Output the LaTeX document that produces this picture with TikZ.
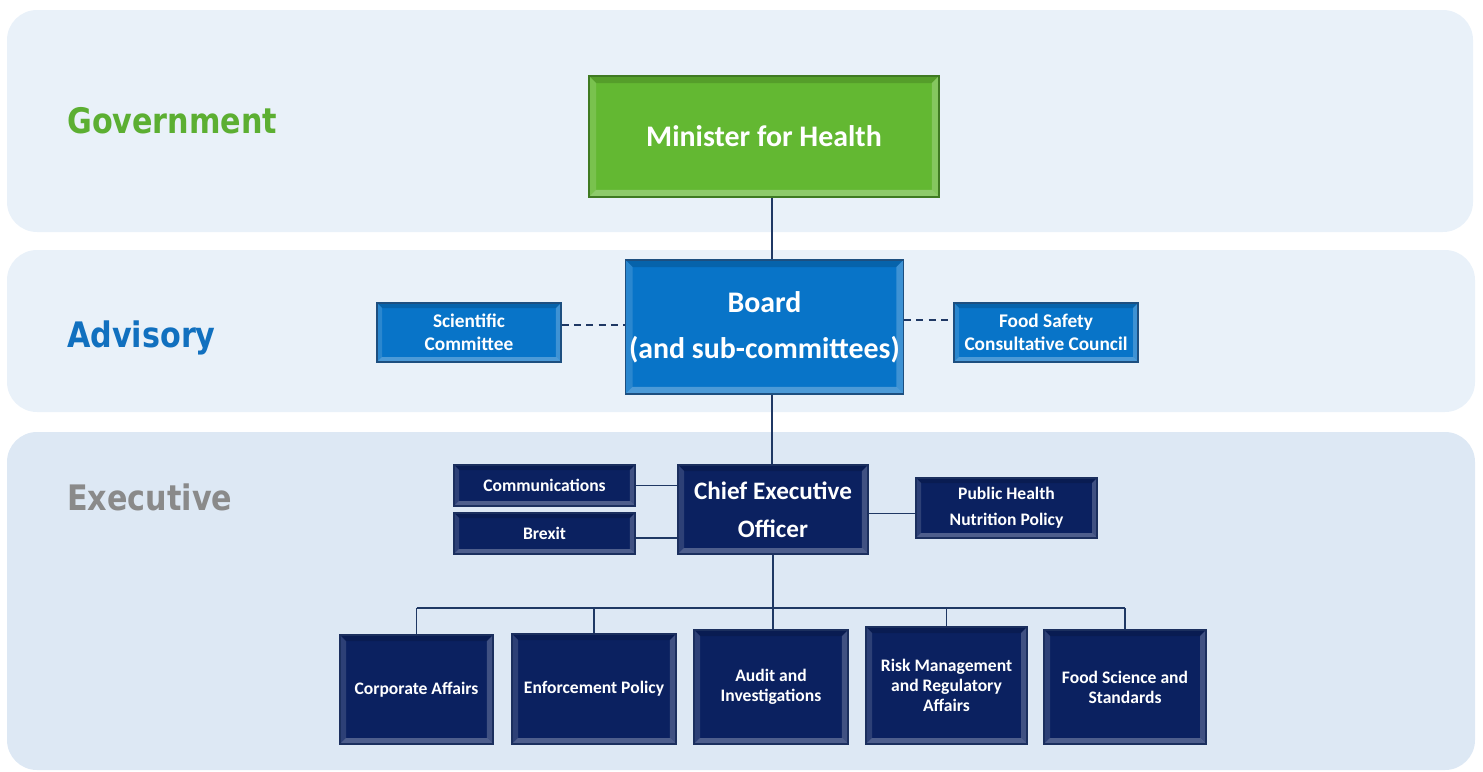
\documentclass[tikz,border=0pt]{standalone}
\usepackage{fontspec}
\setmainfont{Carlito}
\newfontfamily\tierfont[FakeStretch=0.86]{DejaVu Sans}
\usetikzlibrary{calc}

\definecolor{bandlight}{HTML}{E9F1F9}
\definecolor{banddark}{HTML}{DDE8F4}
\definecolor{govgreen}{HTML}{5CAF32}
\definecolor{advblue}{HTML}{1170BF}
\definecolor{exegrey}{HTML}{8A8A8A}
\definecolor{ministerfill}{HTML}{63B832}
\definecolor{ministeredge}{HTML}{3F7A22}
\definecolor{boardfill}{HTML}{0874C8}
\definecolor{boardedge}{HTML}{1D4F80}
\definecolor{navyfill}{HTML}{0B2160}
\definecolor{navyedge}{HTML}{1B2F5E}
\definecolor{linkcol}{HTML}{1F3864}

\begin{document}
\begin{tikzpicture}[
    x=0.02cm, y=-0.02cm,
    band/.style={rounded corners=0.6cm},
    tier/.style={anchor=west, font=\tierfont\bfseries\fontsize{20}{24}\selectfont},
    bevel/.store in=\bevw, bevel=0.14cm,
    bevelled/.style={path picture={
      \path (path picture bounding box.north west) coordinate (nw)
            (path picture bounding box.north east) coordinate (ne)
            (path picture bounding box.south west) coordinate (sw)
            (path picture bounding box.south east) coordinate (se);
      \fill[black, opacity=.14] (nw) -- (ne) -- ($(ne)+(-\bevw,-\bevw)$) -- ($(nw)+(\bevw,-\bevw)$) -- cycle;
      \fill[white, opacity=.28] (sw) -- (se) -- ($(se)+(-\bevw,\bevw)$) -- ($(sw)+(\bevw,\bevw)$) -- cycle;
      \fill[white, opacity=.14] (nw) -- (sw) -- ($(sw)+(\bevw,\bevw)$) -- ($(nw)+(\bevw,-\bevw)$) -- cycle;
      \fill[white, opacity=.22] (ne) -- (se) -- ($(se)+(-\bevw,\bevw)$) -- ($(ne)+(-\bevw,-\bevw)$) -- cycle;
    }},
    unit/.style={rectangle, draw, line width=0.8pt, text=white, align=center, inner sep=2pt, bevelled},
    minister/.style={unit, fill=ministerfill, draw=ministeredge, font=\bfseries\fontsize{17}{20}\selectfont},
    board/.style={unit, fill=boardfill, draw=boardedge, font=\bfseries\fontsize{17}{26}\selectfont},
    adviser/.style={unit, fill=boardfill, draw=boardedge, bevel=0.1cm, minimum width=3.68cm, minimum height=1.18cm, font=\bfseries\fontsize{11}{13}\selectfont},
    office/.style={unit, fill=navyfill, draw=navyedge, bevel=0.1cm, minimum width=3.62cm, font=\bfseries\fontsize{10}{15}\selectfont},
    division/.style={unit, fill=navyfill, draw=navyedge, bevel=0.12cm, font=\bfseries\fontsize{10}{11.5}\selectfont},
    link/.style={draw=linkcol, line width=0.9pt},
    dotlink/.style={link, dashed, dash pattern=on 4pt off 3pt}
]
  \useasboundingbox (0,0) rectangle (1483,771);

  % tiers
  \fill[bandlight, band] (7,10) rectangle (1473,232);
  \fill[bandlight, band] (7,250) rectangle (1475,412);
  \fill[banddark, band] (7,432) rectangle (1475,770);
  \node[tier, text=govgreen] (govlabel) at (61,121) {Government};
  \node[tier, text=advblue] (advlabel) at (61,338) {Advisory};
  \node[tier, text=exegrey] (exelabel) at (61,497) {Executive};

  % government and advisory
  \node[minister, minimum width=7cm, minimum height=2.42cm] (minister) at (764,136.5) {Minister for Health};
  \node[board, minimum width=5.54cm, minimum height=2.68cm] (board) at (764.5,327) {Board\\(and sub-committees)};
  \node[adviser] (sci) at (469,332.5) {Scientific\\Committee};
  \node[adviser] (fscc) at (1046,332.5) {Food Safety\\Consultative Council};

  % executive
  \node[unit, fill=navyfill, draw=navyedge, bevel=0.12cm, minimum width=3.8cm, minimum height=1.78cm,
        font=\bfseries\fontsize{14.3}{21.6}\selectfont] (ceo) at (773,509.5) {Chief Executive\\Officer};
  \node[office, minimum height=0.82cm] (comms) at (544.5,485.5) {Communications};
  \node[office, minimum height=0.82cm] (brexit) at (544.5,533.5) {Brexit};
  \node[office, minimum height=1.2cm] (phnp) at (1006.5,508) {Public Health\\Nutrition Policy};

  \node[division, minimum width=3.06cm, minimum height=2.18cm] (corp) at (416.5,689.5) {Corporate Affairs};
  \node[division, minimum width=3.28cm, minimum height=2.2cm] (enf) at (594,689) {Enforcement Policy};
  \node[division, minimum width=3.08cm, minimum height=2.28cm] (audit) at (771,687) {Audit and\\Investigations};
  \node[division, minimum width=3.22cm, minimum height=2.34cm] (risk) at (946.5,685.5) {Risk Management\\and Regulatory\\Affairs};
  \node[division, minimum width=3.24cm, minimum height=2.28cm] (food) at (1125,687) {Food Science and\\Standards};

  % reporting lines
  \coordinate (trunk) at (772,0);
  \coordinate (bus) at (773,608);
  \draw[link] (minister.south -| trunk) -- (board.north -| trunk);
  \draw[link] (board.south -| trunk) -- (ceo.north -| trunk);
  \draw[dotlink] ([yshift=0.15cm]sci.east) -- ([yshift=0.15cm]board.west |- sci.east);
  \draw[dotlink] ([yshift=0.25cm]board.east |- fscc.west) -- ([yshift=0.25cm]fscc.west);
  \draw[link] (comms.east) -- (comms.east -| ceo.west);
  \draw[link] ([yshift=-0.09cm]brexit.east) -- ([yshift=-0.09cm]brexit.east -| ceo.west);
  \draw[link] ([yshift=-0.08cm]ceo.east) -- ([yshift=-0.08cm]ceo.east -| phnp.west);
  \draw[link] (ceo.south) -- (ceo.south |- audit.north);
  \draw[link] (corp.north |- bus) -- (food.north |- bus);
  \foreach \d in {corp,enf,risk,food}
    \draw[link] (\d.north |- bus) -- (\d.north);
\end{tikzpicture}
\end{document}
